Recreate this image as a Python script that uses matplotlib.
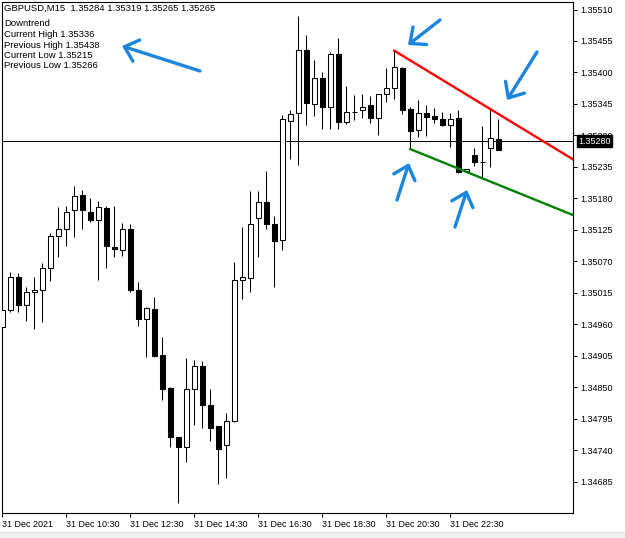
import matplotlib
matplotlib.use("Agg")
import matplotlib.pyplot as plt
from matplotlib.patches import Rectangle, FancyArrowPatch

plt.rcParams["font.family"] = ["Liberation Sans", "DejaVu Sans"]

# ── Data: GBPUSD M15, 31 Dec 2021 from 08:30 ─────────────────────
opens = [
    1.34955, 1.34984, 1.35042, 1.34993, 1.35016, 1.35019, 1.35058, 1.35114, 1.35126, 1.35159,
    1.35186, 1.35156, 1.35142, 1.35163, 1.35095, 1.35089, 1.35126, 1.35019, 1.34969, 1.34987,
    1.34906, 1.34848, 1.34763, 1.34746, 1.34846, 1.34887, 1.34819, 1.34782, 1.34748, 1.34791,
    1.35037, 1.35040, 1.35145, 1.35173, 1.35135, 1.35107, 1.35316, 1.35329, 1.35440, 1.35344,
    1.35390, 1.35340, 1.35432, 1.35313, 1.35331, 1.35334, 1.35343, 1.35320, 1.35362, 1.35372,
    1.35407, 1.35336, 1.35299, 1.35329, 1.35324, 1.35318, 1.35308, 1.35320, 1.35227, 1.35256,
    1.35244, 1.35268, 1.35284,
]
highs = [
    1.34987, 1.35051, 1.35049, 1.35025, 1.35042, 1.35067, 1.35119, 1.35164, 1.35167, 1.35202,
    1.35195, 1.35180, 1.35175, 1.35167, 1.35167, 1.35137, 1.35135, 1.35034, 1.34990, 1.35008,
    1.34938, 1.34851, 1.34763, 1.34901, 1.34898, 1.34896, 1.34847, 1.34782, 1.34805, 1.35069,
    1.35129, 1.35193, 1.35193, 1.35228, 1.35149, 1.35326, 1.35334, 1.35499, 1.35465, 1.35422,
    1.35400, 1.35435, 1.35461, 1.35376, 1.35361, 1.35362, 1.35359, 1.35362, 1.35407, 1.35438,
    1.35409, 1.35340, 1.35352, 1.35343, 1.35337, 1.35331, 1.35329, 1.35334, 1.35231, 1.35268,
    1.35307, 1.35336, 1.35319,
]
lows = [
    1.34950, 1.34982, 1.34982, 1.34965, 1.34952, 1.34963, 1.35036, 1.35078, 1.35096, 1.35113,
    1.35127, 1.35139, 1.35037, 1.35058, 1.35078, 1.35079, 1.35016, 1.34956, 1.34903, 1.34903,
    1.34828, 1.34746, 1.34648, 1.34720, 1.34784, 1.34778, 1.34755, 1.34681, 1.34692, 1.34789,
    1.35004, 1.35016, 1.35078, 1.35126, 1.35025, 1.35090, 1.35248, 1.35238, 1.35309, 1.35324,
    1.35301, 1.35301, 1.35301, 1.35310, 1.35317, 1.35320, 1.35312, 1.35290, 1.35349, 1.35353,
    1.35327, 1.35266, 1.35288, 1.35289, 1.35312, 1.35307, 1.35269, 1.35225, 1.35226, 1.35237,
    1.35215, 1.35235, 1.35265,
]
closes = [
    1.34985, 1.35042, 1.34993, 1.35016, 1.35019, 1.35058, 1.35114, 1.35126, 1.35156, 1.35184,
    1.35159, 1.35142, 1.35164, 1.35096, 1.35091, 1.35126, 1.35019, 1.34969, 1.34989, 1.34905,
    1.34847, 1.34762, 1.34746, 1.34847, 1.34887, 1.34818, 1.34778, 1.34742, 1.34791, 1.35037,
    1.35042, 1.35135, 1.35173, 1.35135, 1.35106, 1.35318, 1.35327, 1.35440, 1.35346, 1.35390,
    1.35340, 1.35432, 1.35314, 1.35330, 1.35331, 1.35340, 1.35320, 1.35362, 1.35372, 1.35409,
    1.35334, 1.35298, 1.35329, 1.35323, 1.35318, 1.35308, 1.35319, 1.35226, 1.35231, 1.35244,
    1.35244, 1.35285, 1.35265,
]

tick_bars   = [0, 8, 16, 24, 32, 40, 48, 56]
tick_labels = ["31 Dec 2021", "31 Dec 10:30", "31 Dec 12:30", "31 Dec 14:30",
               "31 Dec 16:30", "31 Dec 18:30", "31 Dec 20:30", "31 Dec 22:30"]
price_ticks = [1.35510, 1.35455, 1.35400, 1.35345, 1.35290, 1.35235, 1.35180, 1.35125,
               1.35070, 1.35015, 1.34960, 1.34905, 1.34850, 1.34795, 1.34740, 1.34685]

line_price = 1.35280
prev_high_bar, cur_high_bar = 49, 61
prev_low_bar, cur_low_bar = 51, 60

info_lines = [
    "GBPUSD,M15  1.35284 1.35319 1.35265 1.35265",
    "Downtrend",
    "Current High 1.35336",
    "Previous High 1.35438",
    "Current Low 1.35215",
    "Previous Low 1.35266",
]

# ── Layout (pixels) ──────────────────────────────────────────────
W, H = 625, 538
DPI = 100
AX_L, AX_R, AX_T, AX_B = 2, 573, 1.5, 513
X_LIM = (-0.04, 71.34)
Y_LIM = (1.34630, 1.35524)
BODY_W = 0.58
ARROW = "#1c85dd"

fig = plt.figure(figsize=(W / DPI, H / DPI), dpi=DPI)
fig.patch.set_facecolor("white")
ax = fig.add_axes([AX_L / W, (H - AX_B) / H, (AX_R - AX_L) / W, (AX_B - AX_T) / H])
ax.set_xlim(*X_LIM)
ax.set_ylim(*Y_LIM)
for s in ax.spines.values():
    s.set_linewidth(0.8)
    s.set_color("black")

# ── Candles ──────────────────────────────────────────────────────
for i, (o, h, l, c) in enumerate(zip(opens, highs, lows, closes)):
    ax.plot([i, i], [l, h], color="black", lw=0.75, solid_capstyle="butt", zorder=2)
    fc = "white" if c > o else "black"
    ax.add_patch(Rectangle((i - BODY_W / 2, min(o, c)), BODY_W, abs(c - o),
                           facecolor=fc, edgecolor="black", lw=0.75, zorder=3))

# ── Horizontal line + trend lines ────────────────────────────────
ax.axhline(line_price, color="black", lw=0.75, zorder=1)

x_end = X_LIM[1] + 2
k = (highs[cur_high_bar] - highs[prev_high_bar]) / (cur_high_bar - prev_high_bar)
ax.plot([prev_high_bar, x_end],
        [highs[prev_high_bar], highs[prev_high_bar] + k * (x_end - prev_high_bar)],
        color="#ff0000", lw=1.7, zorder=4)
k = (lows[cur_low_bar] - lows[prev_low_bar]) / (cur_low_bar - prev_low_bar)
ax.plot([prev_low_bar, x_end],
        [lows[prev_low_bar], lows[prev_low_bar] + k * (x_end - prev_low_bar)],
        color="#008000", lw=1.7, zorder=4)

# ── Axes ticks ───────────────────────────────────────────────────
ax.yaxis.tick_right()
ax.set_yticks(price_ticks)
ax.set_yticklabels([f"{p:.5f}" for p in price_ticks])
ax.set_xticks(tick_bars)
ax.set_xticklabels(tick_labels)
for lbl in ax.get_xticklabels():
    lbl.set_ha("left")
ax.tick_params(axis="y", direction="out", length=3, width=0.75, pad=2, labelsize=6.5)
ax.tick_params(axis="x", direction="out", length=3, width=0.75, pad=2, labelsize=6.5)

ax.annotate(f"{line_price:.5f}", xy=(1, line_price), xycoords=ax.get_yaxis_transform(),
            xytext=(5, 0), textcoords="offset pixels", va="center", ha="left",
            color="white", fontsize=6.5, zorder=10, annotation_clip=False,
            bbox=dict(boxstyle="square,pad=0.15", fc="black", ec="black"))

# ── Info text ────────────────────────────────────────────────────
baselines = [11, 26, 37, 47.5, 58, 68.5]
for txt, yb in zip(info_lines, baselines):
    fig.text(4 / W, 1 - yb / H, txt, fontsize=6.8, va="baseline", ha="left", color="black")

# ── Hand-drawn arrows (axes fraction) ────────────────────────────
def px(x, y):
    return ((x - AX_L) / (AX_R - AX_L), (AX_B - y) / (AX_B - AX_T))

arrows = [((200, 71), (122, 46)), ((440, 20), (408, 45)), ((537, 52), (507, 100)),
          ((397, 200), (409, 163)), ((455, 227), (467, 190))]
for tail, head in arrows:
    ax.add_patch(FancyArrowPatch(px(*tail), px(*head), transform=ax.transAxes,
                                 arrowstyle="->,head_length=0.45,head_width=0.4",
                                 mutation_scale=20, color=ARROW, lw=2.4,
                                 shrinkA=0, shrinkB=0, capstyle="round",
                                 joinstyle="round", zorder=6, clip_on=False))

# ── Bottom status strip ──────────────────────────────────────────
fig.add_artist(Rectangle((0, 0), 1, 5 / H, transform=fig.transFigure,
                         facecolor="#f0f0f0", edgecolor="none"))
fig.add_artist(Rectangle((0, 5 / H), 1, 1 / H, transform=fig.transFigure,
                         facecolor="#e2e2e2", edgecolor="none"))

fig.savefig("out.png", dpi=DPI, facecolor="white")
plt.close(fig)
